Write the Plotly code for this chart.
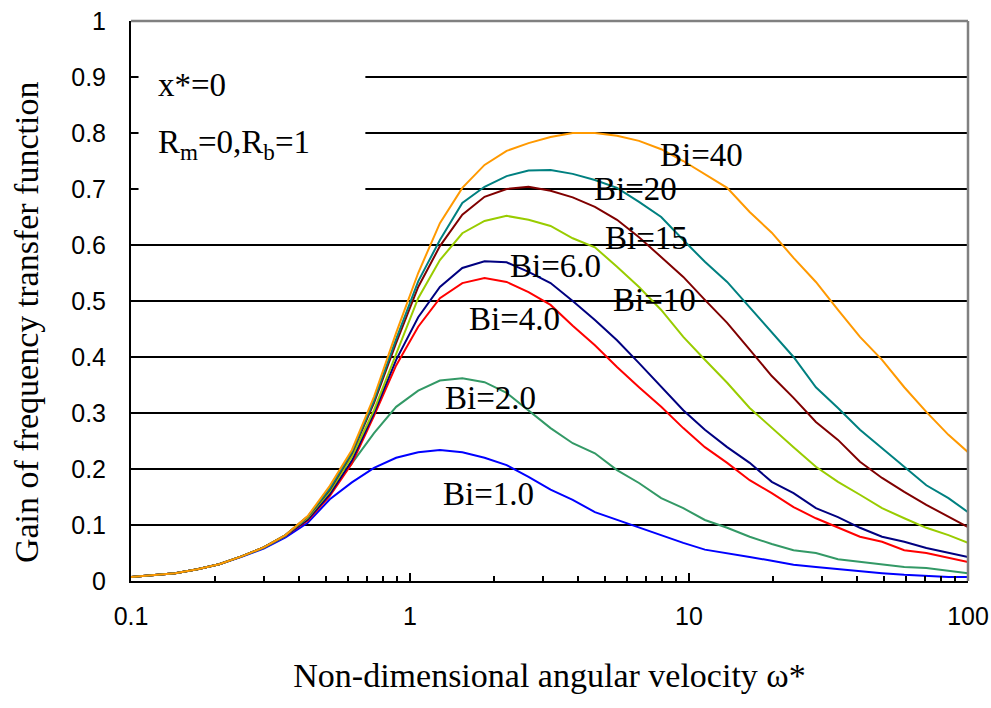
import math
import plotly.graph_objects as go

# Non-dimensional angular velocity (sampling points, geometric ~x1.2)
omega = [0.1, 0.12, 0.144, 0.173, 0.207, 0.249, 0.299, 0.358, 0.43, 0.516,
         0.619, 0.743, 0.892, 1.07, 1.28, 1.54, 1.85, 2.22, 2.66, 3.19,
         3.83, 4.6, 5.52, 6.62, 7.95, 9.54, 11.4, 13.7, 16.5, 19.8,
         23.7, 28.5, 34.2, 41.0, 49.2, 59.1, 70.9, 85.1, 100.0]

gain_bi1 = [0.007, 0.010, 0.014, 0.021, 0.030, 0.043, 0.058, 0.078, 0.104, 0.146,
            0.176, 0.202, 0.220, 0.230, 0.234, 0.230, 0.220, 0.207, 0.186, 0.163,
            0.145, 0.123, 0.109, 0.096, 0.082, 0.068, 0.056, 0.050, 0.043, 0.036,
            0.029, 0.025, 0.021, 0.017, 0.014, 0.011, 0.009, 0.007, 0.007]
gain_bi2 = [0.007, 0.010, 0.014, 0.021, 0.030, 0.044, 0.059, 0.080, 0.112, 0.160,
            0.210, 0.264, 0.311, 0.340, 0.358, 0.362, 0.355, 0.336, 0.305, 0.273,
            0.246, 0.228, 0.198, 0.175, 0.148, 0.130, 0.109, 0.095, 0.079, 0.066,
            0.055, 0.050, 0.039, 0.034, 0.029, 0.025, 0.023, 0.018, 0.014]
gain_bi4 = [0.007, 0.010, 0.014, 0.021, 0.030, 0.044, 0.060, 0.081, 0.108, 0.152,
            0.210, 0.295, 0.385, 0.454, 0.505, 0.532, 0.541, 0.534, 0.516, 0.493,
            0.456, 0.421, 0.382, 0.346, 0.311, 0.273, 0.239, 0.211, 0.180, 0.157,
            0.132, 0.112, 0.095, 0.079, 0.070, 0.055, 0.050, 0.041, 0.034]
gain_bi6 = [0.007, 0.010, 0.014, 0.021, 0.030, 0.044, 0.060, 0.081, 0.110, 0.155,
            0.215, 0.300, 0.395, 0.471, 0.525, 0.559, 0.571, 0.569, 0.552, 0.532,
            0.500, 0.466, 0.430, 0.389, 0.346, 0.305, 0.270, 0.239, 0.211, 0.177,
            0.157, 0.130, 0.114, 0.095, 0.079, 0.070, 0.059, 0.050, 0.043]
gain_bi10 = [0.007, 0.010, 0.014, 0.021, 0.030, 0.044, 0.060, 0.082, 0.113, 0.160,
             0.222, 0.305, 0.405, 0.505, 0.573, 0.621, 0.643, 0.652, 0.645, 0.634,
             0.612, 0.596, 0.561, 0.525, 0.484, 0.436, 0.395, 0.354, 0.309, 0.273,
             0.239, 0.204, 0.177, 0.154, 0.130, 0.112, 0.095, 0.082, 0.068]
gain_bi15 = [0.007, 0.010, 0.014, 0.021, 0.030, 0.044, 0.060, 0.082, 0.115, 0.163,
             0.228, 0.318, 0.425, 0.525, 0.598, 0.654, 0.686, 0.700, 0.704, 0.697,
             0.685, 0.668, 0.645, 0.614, 0.579, 0.543, 0.502, 0.461, 0.413, 0.366,
             0.327, 0.284, 0.252, 0.213, 0.184, 0.159, 0.136, 0.114, 0.096]
gain_bi20 = [0.007, 0.010, 0.014, 0.021, 0.030, 0.044, 0.060, 0.082, 0.115, 0.165,
             0.230, 0.322, 0.432, 0.535, 0.609, 0.675, 0.704, 0.723, 0.733, 0.734,
             0.727, 0.716, 0.702, 0.677, 0.650, 0.609, 0.570, 0.534, 0.489, 0.443,
             0.400, 0.346, 0.309, 0.270, 0.237, 0.204, 0.171, 0.148, 0.123]
gain_bi40 = [0.007, 0.010, 0.014, 0.021, 0.030, 0.044, 0.060, 0.082, 0.116, 0.170,
             0.234, 0.329, 0.443, 0.550, 0.639, 0.702, 0.743, 0.768, 0.782, 0.793,
             0.800, 0.800, 0.795, 0.786, 0.771, 0.750, 0.727, 0.702, 0.659, 0.622,
             0.577, 0.534, 0.484, 0.436, 0.395, 0.346, 0.302, 0.261, 0.230]

series_names = ["Bi=1.0", "Bi=2.0", "Bi=4.0", "Bi=6.0", "Bi=10", "Bi=15", "Bi=20", "Bi=40"]
series_values = [gain_bi1, gain_bi2, gain_bi4, gain_bi6, gain_bi10, gain_bi15, gain_bi20, gain_bi40]
series_colors = ["#0000FF", "#339966", "#FF0000", "#000080", "#99CC00", "#800000", "#008080", "#FF9900"]

# label anchor positions (omega, gain)
label_pos = {
    "Bi=40": (11.1, 0.761),
    "Bi=20": (6.45, 0.700),
    "Bi=15": (7.06, 0.612),
    "Bi=6.0": (3.33, 0.562),
    "Bi=10": (7.5, 0.502),
    "Bi=4.0": (2.36, 0.468),
    "Bi=2.0": (1.94, 0.327),
    "Bi=1.0": (1.91, 0.155),
}

x_tickvals = [0.1, 1, 10, 100]
x_ticktext = ["0.1", "1", "10", "100"]
y_tickvals = [0, 0.1, 0.2, 0.3, 0.4, 0.5, 0.6, 0.7, 0.8, 0.9, 1]
y_ticktext = ["0", "0.1", "0.2", "0.3", "0.4", "0.5", "0.6", "0.7", "0.8", "0.9", "1"]

fig = go.Figure()
for name, vals, col in zip(series_names, series_values, series_colors):
    fig.add_trace(go.Scatter(x=omega, y=vals, mode="lines", name=name,
                             line=dict(color=col, width=2), showlegend=False))

serif = "Liberation Serif, Times New Roman, serif"
sans = "Liberation Sans, Arial, sans-serif"

for name in series_names:
    xv, yv = label_pos[name]
    fig.add_annotation(x=math.log10(xv), y=yv, text=name, showarrow=False,
                       font=dict(family=serif, size=33, color="black"),
                       xanchor="center", yanchor="middle")

fig.add_annotation(xref="x domain", yref="y", x=0.03, y=0.885, text="x*=0", showarrow=False,
                   font=dict(family=serif, size=33, color="black"), xanchor="left", yanchor="middle")
fig.add_annotation(xref="x domain", yref="y", x=0.03, y=0.78, text="R<sub>m</sub>=0,R<sub>b</sub>=1",
                   showarrow=False, font=dict(family=serif, size=33, color="black"),
                   xanchor="left", yanchor="middle")

# y-axis title (placed as rotated annotation)
fig.add_annotation(xref="paper", yref="paper", x=-0.124, y=0.461,
                   text="Gain of frequency transfer function", textangle=-90, showarrow=False,
                   font=dict(family=serif, size=34, color="black"),
                   xanchor="center", yanchor="middle")

# white box behind text (covers gridlines)
fig.add_shape(type="rect", xref="x domain", yref="y", x0=0.009, x1=0.28, y0=0.65, y1=0.95,
              fillcolor="white", line=dict(width=0), layer="above")
# gray top/right frame
fig.add_shape(type="line", xref="x domain", yref="y domain", x0=0, x1=1, y0=1, y1=1,
              line=dict(color="#808080", width=2.5), layer="above")
fig.add_shape(type="line", xref="x domain", yref="y domain", x0=1, x1=1, y0=0, y1=1,
              line=dict(color="#808080", width=2.5), layer="above")

fig.update_layout(
    width=991, height=708,
    margin=dict(l=131, r=23, t=21, b=127),
    paper_bgcolor="white", plot_bgcolor="white",
    xaxis=dict(type="log", range=[-1, 2], tickvals=x_tickvals, ticktext=x_ticktext,
               automargin=False,
               ticks="inside", ticklen=8, tickwidth=1.5, tickcolor="black",
               ticklabelstandoff=12,
               showline=True, linecolor="black", linewidth=2, showgrid=False, zeroline=False,
               tickfont=dict(family=sans, size=25, color="black"),
               minor=dict(ticks="inside", ticklen=5, tickwidth=1.5, tickcolor="black",
                          tickvals=[0.2, 0.3, 0.4, 0.5, 0.6, 0.7, 0.8, 0.9,
                                    2, 3, 4, 5, 6, 7, 8, 9,
                                    20, 30, 40, 50, 60, 70, 80, 90],
                          showgrid=False),
               title=dict(text="Non-dimensional angular velocity ω*",
                          font=dict(family=serif, size=34, color="black"), standoff=34)),
    yaxis=dict(range=[0, 1], tickvals=y_tickvals, ticktext=y_ticktext,
               automargin=False,
               ticks="inside", ticklen=6, tickwidth=1.5, tickcolor="black",
               ticklabelstandoff=18,
               showline=True, linecolor="black", linewidth=2,
               showgrid=True, gridcolor="black", gridwidth=1.5, zeroline=False,
               tickfont=dict(family=sans, size=25, color="black")),
)

fig.write_html("out.html")
